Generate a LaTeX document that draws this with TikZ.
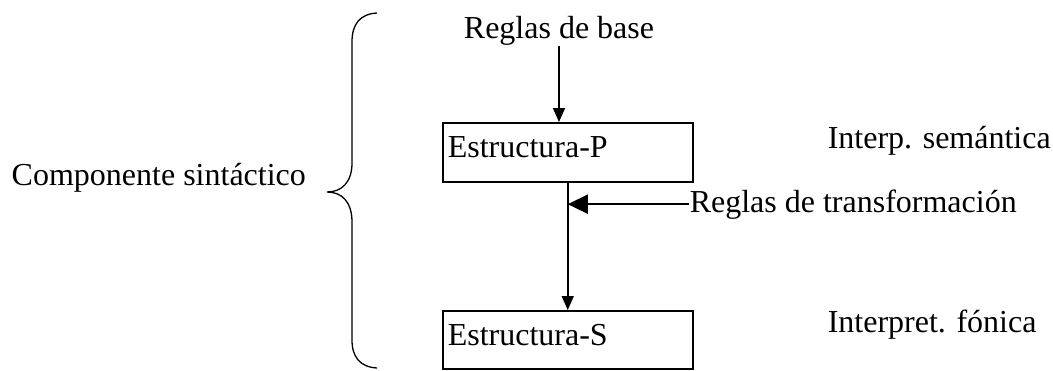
\documentclass[tikz,border=0pt]{standalone}
\usepackage{fontspec}
\setmainfont{Liberation Serif}
\usetikzlibrary{arrows.meta}

\begin{document}
\begin{tikzpicture}[x=1pt, y=-1pt, line width=1.5pt, font=\fontsize{32}{38}\selectfont]
    \tikzset{
      box/.style={draw, minimum width=250pt, minimum height=59pt, text width=240pt,
        align=left, inner xsep=5pt, inner ysep=0pt, text height=24pt, text depth=13pt,
        anchor=north west},
      plain text/.style={anchor=base west, inner sep=0pt},
      arr/.style={-{Triangle[length=14pt, width=12pt]}},
      big arr/.style={-{Triangle[length=20pt, width=19pt]}},
    }
    \useasboundingbox (0,0) rectangle (1053,370);

    % boxes
    \node [box] (P) at (442,122) {Estructura-P};
    \node [box, minimum height=58pt] (S) at (442,310) {Estructura-S};

    % texts
    \node [plain text] (comp) at (11,185) {Componente sintáctico};
    \node [anchor=base, inner sep=0pt] (base) at (559,38) {Reglas de base};
    \node [plain text] (sem) at (827,148) {Interp. semántica};
    \node [plain text] (trans) at (689,212) {Reglas de transformación};
    \node [plain text] (fon) at (827,332) {Interpret. fónica};

    % brace
    \draw [line width=1.3pt] (377,13) .. controls (360,14) and (352,24) .. (352,42)
      -- (352,163) .. controls (352,182) and (342,192) .. (327,192)
      .. controls (342,192) and (352,202) .. (352,222)
      -- (352,340) .. controls (352,357) and (360,367) .. (377,368);

    % arrows
    \draw [arr] (base.south) -- (base.south |- P.north);
    \draw [arr] (P.south) -- (S.north);
    \draw [big arr] (trans.west) -- (trans.west -| P.south);
\end{tikzpicture}
\end{document}
